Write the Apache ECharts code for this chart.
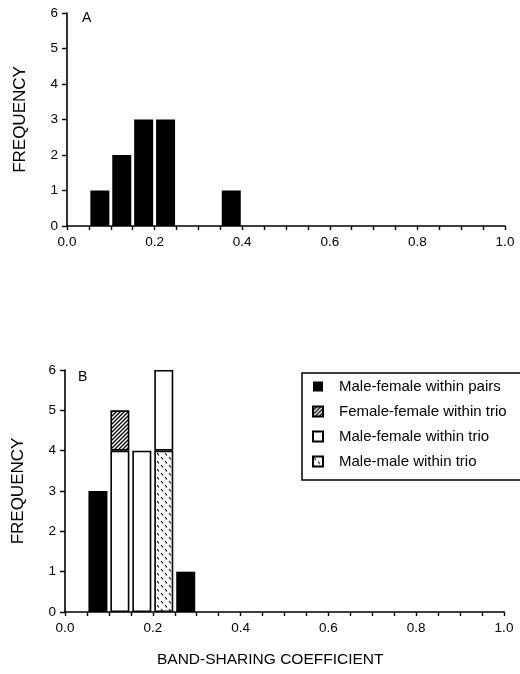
<!DOCTYPE html>
<html>
<head>
<meta charset="utf-8">
<script src="https://cdn.jsdelivr.net/npm/echarts@6/dist/echarts.min.js"></script>
<style>
  html, body { margin: 0; padding: 0; background: #fff; }
  #chart { width: 520px; height: 674px; }
</style>
</head>
<body>
<div id="chart"></div>
<script>
// histogram bins are 0.05 wide, 0.0 - 1.0
const binCount = 20;

// panel A: all pairs (bin index -> frequency)
const binsA = [1, 2, 3, 4, 7];
const freqA = [1, 2, 3, 3, 1];

// panel B: by relationship, bins 0.05-0.30
const binsB = [1, 2, 3, 4, 5];
const mfPairs = [3, 0, 0, 0, 1];
const mmTrio = [0, 0, 0, 4, 0];
const mfTrio = [0, 4, 4, 2, 0];
const ffTrio = [0, 1, 0, 0, 0];

const legendOrder = [
  'Male-female within pairs',
  'Female-female within trio',
  'Male-female within trio',
  'Male-male within trio',
];

const FONT = '"Liberation Sans", Arial, sans-serif';

const binLabels = [];
for (let i = 0; i < binCount; i++) {
  binLabels.push((i * 0.05).toFixed(2) + '-' + ((i + 1) * 0.05).toFixed(2));
}

// spread sparse bins into a full row, empty bins left out
function fill(bins, vals) {
  const row = new Array(binCount).fill('-');
  bins.forEach((b, i) => { if (vals[i]) row[b] = vals[i]; });
  return row;
}

function makePattern(draw, w, h) {
  const c = document.createElement('canvas');
  c.width = w;
  c.height = h;
  const ctx = c.getContext('2d');
  ctx.fillStyle = '#fff';
  ctx.fillRect(0, 0, w, h);
  ctx.strokeStyle = '#000';
  draw(ctx);
  return { image: c, repeat: 'repeat' };
}

// diagonal hatching "////"
const hatch = makePattern((ctx) => {
  ctx.lineWidth = 1.3;
  ctx.beginPath();
  ctx.moveTo(0, 4); ctx.lineTo(4, 0);
  ctx.moveTo(-1, 1); ctx.lineTo(1, -1);
  ctx.moveTo(3, 5); ctx.lineTo(5, 3);
  ctx.stroke();
}, 4, 4);

// short back-slash dashes, staggered
const dashes = makePattern((ctx) => {
  ctx.lineWidth = 1.1;
  ctx.beginPath();
  ctx.moveTo(1, 1); ctx.lineTo(3, 3.5);
  ctx.moveTo(5, 5); ctx.lineTo(7, 7.5);
  ctx.stroke();
}, 8, 8);

function valueAxis(gridIndex) {
  return {
    type: 'value',
    gridIndex: gridIndex,
    min: 0,
    max: 1,
    interval: 0.2,
    axisLine: { show: true, onZero: false, lineStyle: { color: '#000', width: 1.6 } },
    axisTick: { show: true, length: 4, lineStyle: { color: '#000', width: 1.4 } },
    minorTick: { show: true, splitNumber: 4, length: 4, lineStyle: { color: '#000', width: 1.4 } },
    splitLine: { show: false },
    axisLabel: {
      color: '#000', fontSize: 13.5, fontFamily: FONT, margin: 9,
      formatter: (v) => v.toFixed(1),
    },
  };
}

function binAxis(gridIndex) {
  return {
    type: 'category',
    gridIndex: gridIndex,
    data: binLabels,
    show: false,
  };
}

function yAxis(gridIndex) {
  return {
    type: 'value',
    gridIndex: gridIndex,
    min: 0,
    max: 6,
    interval: 1,
    name: 'FREQUENCY',
    nameLocation: 'middle',
    nameRotate: 90,
    nameGap: 38,
    nameTextStyle: { color: '#000', fontSize: 17, fontFamily: FONT },
    axisLine: { show: true, lineStyle: { color: '#000', width: 1.6 } },
    axisTick: { show: true, length: 5, lineStyle: { color: '#000', width: 1.4 } },
    splitLine: { show: false },
    axisLabel: { color: '#000', fontSize: 13.5, fontFamily: FONT, margin: 9 },
  };
}

const option = {
  animation: false,
  backgroundColor: '#fff',
  grid: [
    { left: 67, right: 15, top: 13, bottom: 448 },
    { left: 65, right: 16, top: 370, bottom: 62 },
  ],
  xAxis: [valueAxis(0), valueAxis(1), binAxis(0), binAxis(1)],
  yAxis: [yAxis(0), yAxis(1)],
  legend: {
    orient: 'vertical',
    left: 307,
    top: 373,
    icon: 'rect',
    itemWidth: 10,
    itemHeight: 10,
    itemGap: 8,
    data: legendOrder,
    textStyle: { color: '#000', fontSize: 15, fontFamily: FONT, lineHeight: 17, padding: [0, 0, 0, 11] },
  },
  graphic: [
    { type: 'text', left: 82, top: 11, style: { text: 'A', fontSize: 14, fontFamily: FONT, fill: '#000' } },
    { type: 'text', left: 78, top: 370, style: { text: 'B', fontSize: 14, fontFamily: FONT, fill: '#000' } },
    { type: 'rect', shape: { x: 302, y: 373, width: 240, height: 107 },
      style: { fill: 'none', stroke: '#000', lineWidth: 1.5 }, z: 10 },
    { type: 'text', left: 157, top: 652,
      style: { text: 'BAND-SHARING COEFFICIENT', fontSize: 15.5, fontFamily: FONT, fill: '#000' } },
  ],
  series: [
    {
      type: 'bar', name: 'A', xAxisIndex: 2, yAxisIndex: 0, barWidth: 19,
      itemStyle: { color: '#000' },
      data: fill(binsA, freqA),
    },
    {
      type: 'bar', name: 'Male-female within pairs', xAxisIndex: 3, yAxisIndex: 1,
      stack: 'b', barWidth: 19,
      itemStyle: { color: '#000' },
      data: fill(binsB, mfPairs),
    },
    {
      type: 'bar', name: 'Male-male within trio', xAxisIndex: 3, yAxisIndex: 1,
      stack: 'b', barWidth: 19,
      itemStyle: { color: dashes, borderColor: '#000', borderWidth: 1.6 },
      data: fill(binsB, mmTrio),
    },
    {
      type: 'bar', name: 'Male-female within trio', xAxisIndex: 3, yAxisIndex: 1,
      stack: 'b', barWidth: 19,
      itemStyle: { color: '#fff', borderColor: '#000', borderWidth: 1.6 },
      data: fill(binsB, mfTrio),
    },
    {
      type: 'bar', name: 'Female-female within trio', xAxisIndex: 3, yAxisIndex: 1,
      stack: 'b', barWidth: 19,
      itemStyle: { color: hatch, borderColor: '#000', borderWidth: 1.6 },
      data: fill(binsB, ffTrio),
    },
  ],
};

const chart = echarts.init(document.getElementById('chart'), null, { renderer: 'canvas' });
chart.setOption(option);
</script>
</body>
</html>
